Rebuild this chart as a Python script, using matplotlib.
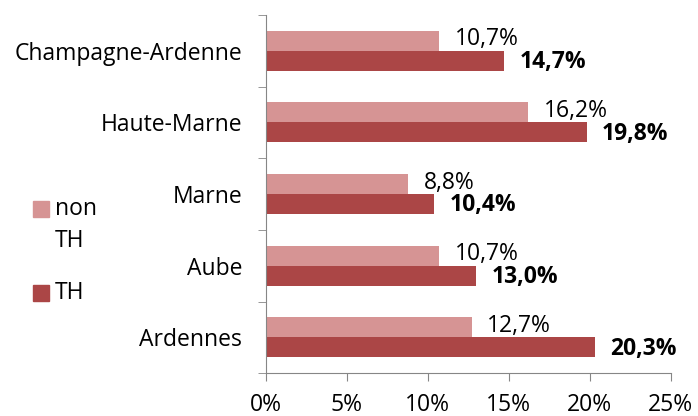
import numpy as np
import matplotlib
matplotlib.use('Agg')
import matplotlib.pyplot as plt
from matplotlib.patches import Rectangle

regions = ['Ardennes', 'Aube', 'Marne', 'Haute-Marne', 'Champagne-Ardenne']
non_th = [12.7, 10.7, 8.8, 16.2, 10.7]
th = [20.3, 13.0, 10.4, 19.8, 14.7]
xticks = [0, 5, 10, 15, 20, 25]

light_color = '#D69494'
dark_color = '#AB4646'
axis_color = '#868686'
fs = 16.5

plt.rcParams['font.family'] = ['Open Sans', 'DejaVu Sans']

W, H = 698, 416
fig = plt.figure(figsize=(W / 100, H / 100), dpi=100)
ax = fig.add_axes([0.381, 0.103, 0.580, 0.861])

y = np.arange(len(regions))
h = 0.28
ax.barh(y + h / 2, non_th, height=h, color=light_color)
ax.barh(y - h / 2, th, height=h, color=dark_color)

for yy, v in zip(y, non_th):
    ax.annotate(('%.1f%%' % v).replace('.', ','), (v, yy + h / 2), xytext=(11, 1),
                textcoords='offset points', va='center', ha='left', fontsize=fs)
for yy, v in zip(y, th):
    ax.annotate(('%.1f%%' % v).replace('.', ','), (v, yy - h / 2), xytext=(11, -1),
                textcoords='offset points', va='center', ha='left', fontsize=fs,
                fontweight='bold')

ax.set_xlim(0, 25)
ax.set_ylim(-0.5, len(regions) - 0.5)
ax.set_xticks(xticks)
ax.set_xticklabels(['%d%%' % t for t in xticks], fontsize=fs)
ax.set_yticks(y)
ax.set_yticklabels(regions, fontsize=fs)
ax.tick_params(axis='y', length=0, pad=17)
ax.set_yticks(np.arange(-0.5, len(regions)), minor=True)
ax.tick_params(axis='y', which='minor', length=6, color=axis_color)
ax.tick_params(axis='x', length=6, color=axis_color, pad=8)

for s in ['top', 'right']:
    ax.spines[s].set_visible(False)
for s in ['left', 'bottom']:
    ax.spines[s].set_color(axis_color)

# legend drawn by hand (label wraps onto two lines, patch aligned with first line)
legend_items = [('non', 'TH', light_color, 201), ('TH', None, dark_color, 285)]
for line1, line2, col, top in legend_items:
    fig.add_artist(Rectangle((33 / W, 1 - (top + 16) / H), 16 / W, 16 / H,
                             transform=fig.transFigure, color=col))
    fig.text(55 / W, 1 - (top + 8) / H, line1, fontsize=fs, va='center', ha='left')
    if line2:
        fig.text(55 / W, 1 - (top + 40) / H, line2, fontsize=fs, va='center', ha='left')

fig.savefig('out.png', dpi=100)
